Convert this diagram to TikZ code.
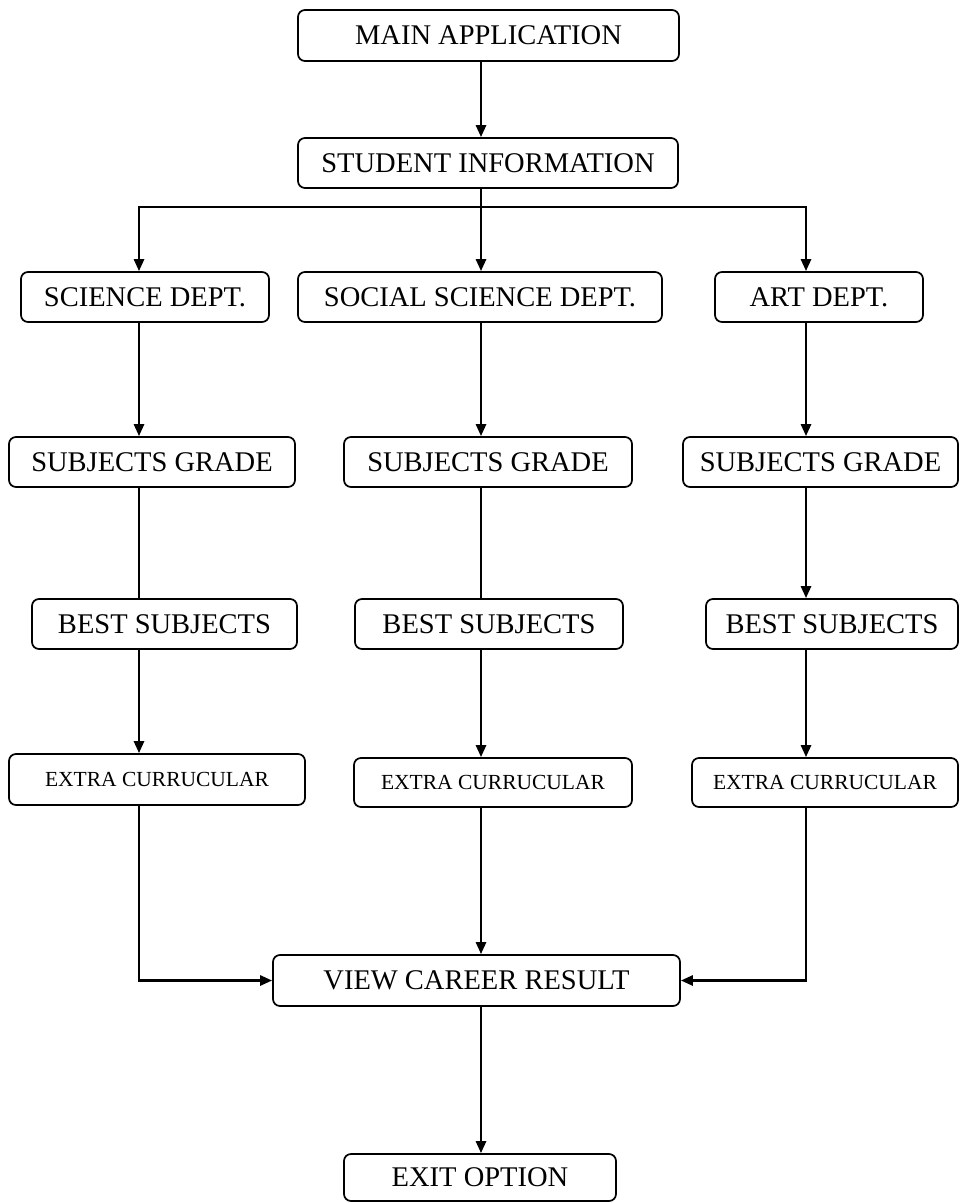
\documentclass[tikz,border=0pt]{standalone}
\usepackage{fontspec}
\setmainfont{Liberation Serif}
\usetikzlibrary{arrows.meta}

\begin{document}
\begin{tikzpicture}[
  x=1pt, y=-1pt,
  font=\fontsize{28.5}{34}\selectfont,
  box/.style={draw, line width=1.7pt, rounded corners=7pt, inner sep=0pt,
    align=center},
  smallbox/.style={box, font=\fontsize{21.5}{26}\selectfont},
  arrow/.style={-{Triangle[length=12pt,width=10pt]}, line width=2.6pt},
  line/.style={line width=2.6pt}
]
\useasboundingbox (0,0) rectangle (963,1203);

% column lines
\coordinate (c1) at (139,0);
\coordinate (c2) at (481,0);
\coordinate (c3) at (806,0);
\coordinate (split) at (481,207);

\node[box, minimum width=381pt, minimum height=51pt] (main) at (488.5,35.5) {MAIN APPLICATION};
\node[box, minimum width=380pt, minimum height=50pt] (student) at (488,163) {STUDENT INFORMATION};

\node[box, minimum width=248pt, minimum height=50pt] (science) at (145,297) {SCIENCE DEPT.};
\node[box, minimum width=364pt, minimum height=50pt] (social) at (480,297) {SOCIAL SCIENCE DEPT.};
\node[box, minimum width=208pt, minimum height=50pt] (art) at (819,297) {ART DEPT.};

\node[box, minimum width=286pt, minimum height=50pt] (scigrade) at (152,462) {SUBJECTS GRADE};
\node[box, minimum width=288pt, minimum height=50pt] (socgrade) at (488,462) {SUBJECTS GRADE};
\node[box, minimum width=275pt, minimum height=50pt] (artgrade) at (820.5,462) {SUBJECTS GRADE};

\node[box, minimum width=265pt, minimum height=50pt] (scibest) at (164.5,624) {BEST SUBJECTS};
\node[box, minimum width=268pt, minimum height=50pt] (socbest) at (489,624) {BEST SUBJECTS};
\node[box, minimum width=252pt, minimum height=50pt] (artbest) at (832,624) {BEST SUBJECTS};

\node[smallbox, minimum width=296pt, minimum height=51pt] (sciextra) at (157,779.5) {EXTRA CURRUCULAR};
\node[smallbox, minimum width=278pt, minimum height=49pt] (socextra) at (493,782.5) {EXTRA CURRUCULAR};
\node[smallbox, minimum width=266pt, minimum height=49pt] (artextra) at (825,782.5) {EXTRA CURRUCULAR};

\node[box, minimum width=407pt, minimum height=51pt] (result) at (476.5,980.5) {VIEW CAREER RESULT};
\node[box, minimum width=272pt, minimum height=47pt] (exit) at (480,1177.5) {EXIT OPTION};

\draw[arrow] (main.south -| c2) -- (student.north -| c2);
\draw[arrow] (student.south -| c2) -- (social.north -| c2);
\draw[arrow] (split) -| (science.north -| c1);
\draw[arrow] (split) -| (art.north -| c3);

\draw[arrow] (science.south -| c1) -- (scigrade.north -| c1);
\draw[line] (scigrade.south -| c1) -- (scibest.north -| c1);
\draw[arrow] (scibest.south -| c1) -- (sciextra.north -| c1);
\draw[arrow] (sciextra.south -| c1) |- (result.west);

\draw[arrow] (social.south -| c2) -- (socgrade.north -| c2);
\draw[line] (socgrade.south -| c2) -- (socbest.north -| c2);
\draw[arrow] (socbest.south -| c2) -- (socextra.north -| c2);
\draw[arrow] (socextra.south -| c2) -- (result.north -| c2);

\draw[arrow] (art.south -| c3) -- (artgrade.north -| c3);
\draw[arrow] (artgrade.south -| c3) -- (artbest.north -| c3);
\draw[arrow] (artbest.south -| c3) -- (artextra.north -| c3);
\draw[arrow] (artextra.south -| c3) |- (result.east);

\draw[arrow] (result.south -| c2) -- (exit.north -| c2);
\end{tikzpicture}
\end{document}
